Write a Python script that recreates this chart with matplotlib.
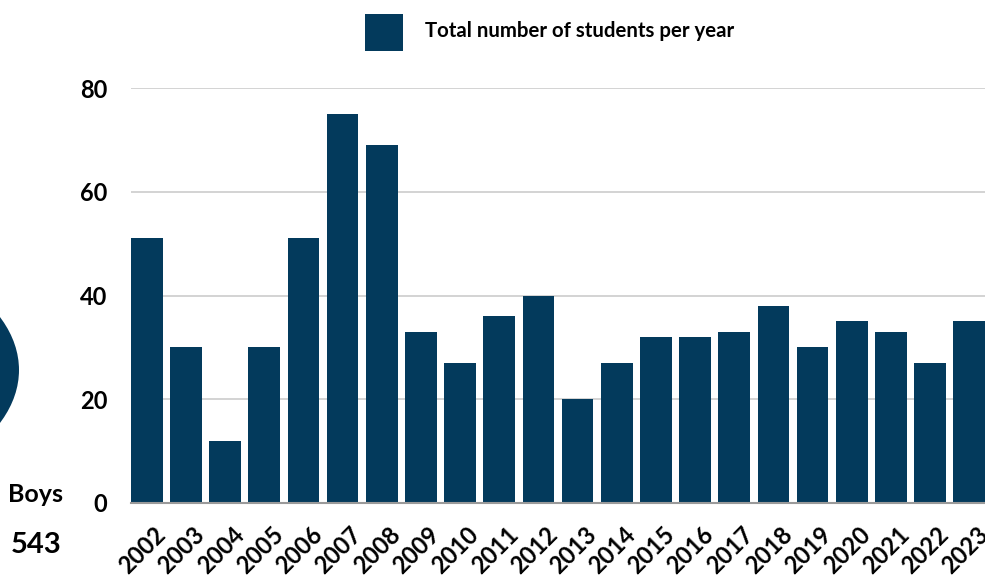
import matplotlib
matplotlib.use("Agg")
import matplotlib.pyplot as plt
from matplotlib.patches import Circle, Rectangle
from matplotlib.transforms import offset_copy

years = ["2002", "2003", "2004", "2005", "2006", "2007", "2008", "2009", "2010", "2011",
         "2012", "2013", "2014", "2015", "2016", "2017", "2018", "2019", "2020", "2021",
         "2022", "2023"]
students = [51, 30, 12, 30, 51, 75, 69, 33, 27, 36, 40, 20, 27, 32, 32, 33, 38, 30, 35, 33, 27, 35]
y_ticks = [0, 20, 40, 60, 80]
legend_label = "Total number of students per year"
side_label = "Boys"
side_value = "543"

NAVY = "#033a5c"
FONT = "Lato"

W, H = 985, 579
fig = plt.figure(figsize=(W / 100, H / 100), dpi=100)

# main bar chart
ax = fig.add_axes([131 / W, (H - 503) / H, 1 - 131 / W, (503 - 88) / H])
bar_w = 0.81
x = list(range(len(years)))
ax.bar(x, students, width=bar_w, color=NAVY, zorder=3)
ax.set_xlim(-bar_w / 2, len(years) - 1 + bar_w / 2)
ax.set_ylim(0, 80)
ax.set_yticks(y_ticks)
ax.set_yticklabels([str(v) for v in y_ticks], fontfamily=FONT, fontweight="bold",
                   fontsize=17, color="black")
ax.tick_params(axis="y", length=0, pad=17)
ax.set_xticks(x)
ax.set_xticklabels(years, fontfamily=FONT, fontweight="bold", fontsize=17,
                   rotation=45, ha="right", va="center", rotation_mode="anchor")
ax.tick_params(axis="x", length=0, pad=20)
for lbl in ax.get_xticklabels():
    lbl.set_transform(offset_copy(lbl.get_transform(), fig=fig, x=15, y=0, units="dots"))
ax.grid(axis="y", color="#cccccc", linewidth=1.2, zorder=0)
for s in ["top", "right", "left"]:
    ax.spines[s].set_visible(False)
ax.spines["bottom"].set_color("#9a9a9a")
ax.spines["bottom"].set_linewidth(1.5)
ax.spines["bottom"].set_zorder(4)

# legend
fig.patches.append(Rectangle((365 / W, (H - 51) / H), 38 / W, 37 / H,
                             transform=fig.transFigure, facecolor=NAVY,
                             edgecolor="none"))
fig.text(425 / W, (H - 31) / H, legend_label, fontfamily=FONT, fontweight="bold",
         fontsize=14.7, va="center", ha="left")

# neighbouring pie edge and its label
fig.patches.append(Circle((-204 / W, (H - 370) / H), 223 / W,
                          transform=fig.transFigure, facecolor=NAVY, edgecolor="none"))
fig.text(36 / W, (H - 495) / H, side_label, fontfamily=FONT, fontweight="bold",
         fontsize=18, va="center", ha="center")
fig.text(36 / W, (H - 545) / H, side_value, fontfamily=FONT, fontweight="bold",
         fontsize=21, va="center", ha="center")

fig.savefig("out.png", dpi=100)
